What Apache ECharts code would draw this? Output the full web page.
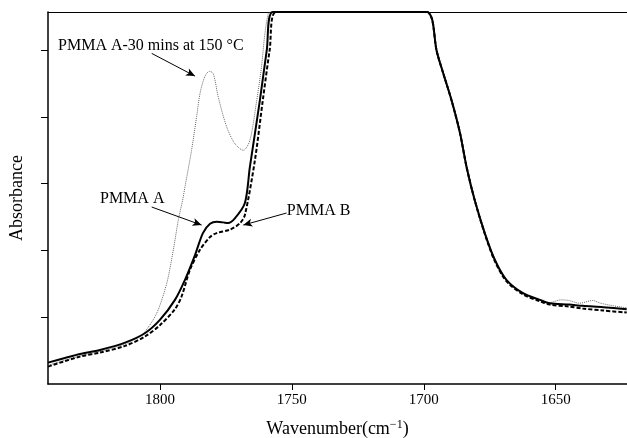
<!DOCTYPE html>
<html><head><meta charset="utf-8">
<script src="https://cdn.jsdelivr.net/npm/echarts@6/dist/echarts.min.js"></script>
<style>html,body{margin:0;padding:0;background:#fff}#c{width:627px;height:438px}</style>
</head><body><div id="c"></div>
<script>
// Wavenumber (cm-1) and absorbance (arbitrary units)
const wnA = [1842.4,1836,1830.3,1822.7,1813.2,1805.7,1800,1794.3,1790.5,1786.7,1783.7,1781.0,1778.4,1776,1774.2,1771.6,1767.8,1765.9,1762.1,1759.5,1757.2,1740,1720,1700,1698.6,1696.8,1695.2,1692.7,1689.5,1686.3,1683.8,1680.7,1676.9,1673.1,1668.7,1662.4,1656.0,1652.3,1645,1639.8,1632,1623.1];
const absA = [0.32,0.39,0.45,0.51,0.62,0.76,0.96,1.26,1.56,1.93,2.26,2.40,2.43,2.42,2.41,2.48,2.71,3.25,4.25,5.0,5.57,5.57,5.57,5.57,5.57,5.45,5.0,4.66,4.25,3.76,3.25,2.75,2.26,1.86,1.56,1.36,1.26,1.21,1.19,1.17,1.15,1.12];

const wnB = [1842.4,1830.3,1822.7,1813.2,1805.7,1800,1794.3,1791.8,1788.6,1784.8,1781.0,1778.5,1773.5,1769.6,1767.8,1764.0,1761.0,1758.4,1756.0,1740,1720,1700,1698.6,1696.8,1695.2,1692.7,1689.5,1686.3,1683.8,1680.7,1676.9,1673.1,1668.7,1662.4,1656.0,1652.3,1645,1639.8,1632,1623.1];
const absB = [0.26,0.41,0.47,0.57,0.71,0.88,1.12,1.31,1.71,2.01,2.2,2.26,2.31,2.41,2.53,3.35,4.25,5.0,5.57,5.57,5.57,5.57,5.57,5.45,5.0,4.66,4.25,3.76,3.25,2.75,2.25,1.84,1.54,1.34,1.24,1.19,1.16,1.13,1.10,1.07];

const wnH = [1842.4,1830.3,1822.7,1813.2,1808,1805.7,1801.2,1797.4,1794.9,1793.0,1791.4,1790.5,1788.0,1786.1,1784.8,1783.0,1781.3,1779.8,1777.9,1774.7,1771.6,1768.4,1765.9,1763.3,1761.5,1760.2,1758.9,1758,1740,1720,1700,1698.4,1696.6,1695.0,1692.5,1689.3,1686.1,1683.6,1680.5,1676.7,1672.9,1668.5,1662.2,1656.0,1652.3,1648,1645,1641,1636,1633,1628,1623.1];
const absH = [0.28,0.42,0.49,0.6,0.7,0.78,1.06,1.51,2.01,2.46,2.75,2.95,3.5,4.0,4.35,4.6,4.68,4.65,4.3,3.85,3.6,3.5,3.65,4.25,4.75,5.25,5.55,5.57,5.57,5.57,5.57,5.57,5.45,5.0,4.66,4.25,3.76,3.25,2.75,2.26,1.86,1.56,1.36,1.26,1.22,1.26,1.25,1.21,1.25,1.21,1.17,1.14];

const xTicks = [1800,1750,1700,1650];
const yTicks = [1,2,3,4,5];
const labelTexts = ['PMMA A-30 mins at 150 \u00b0C','PMMA A','PMMA B'];
const labelWn = [1838.6,1822.7,1751.9];
const labelAbs = [5.06,2.77,2.60];
const arrowFrom = [[1803.1,4.95],[1803.1,2.65],[1752.0,2.56]];
const arrowTo = [[1786.7,4.61],[1784.2,2.38],[1768.4,2.38]];

const zip = (a,b)=>a.map((v,i)=>[v,b[i]]);
const font = "'Liberation Serif','Times New Roman',serif";
const chart = echarts.init(document.getElementById('c'));
chart.setOption({
  animation:false,
  grid:{left:48,right:0,top:12,bottom:54,outerBoundsMode:'none',containLabel:false},
  xAxis:[{
    type:'value', inverse:true, min:1623, max:1842.4,
    name:'Wavenumber(cm{sup|\u22121})', nameLocation:'middle', nameGap:35,
    nameTextStyle:{color:'#000',fontFamily:font,fontSize:18,rich:{sup:{fontSize:12,verticalAlign:'top',padding:[0,0,9,0],fontFamily:font,color:'#000'}}},
    axisLine:{lineStyle:{color:'#000',width:1.5}},
    axisTick:{show:true,length:6,lineStyle:{color:'#000'},customValues:xTicks},
    axisLabel:{color:'#000',fontFamily:font,fontSize:15,margin:9,customValues:xTicks,formatter:v=>String(v)},
    splitLine:{show:false}
  },{
    type:'value', position:'top', min:1623, max:1842.4, inverse:true,
    axisLine:{show:true,lineStyle:{color:'#000',width:1}},
    axisTick:{show:false}, axisLabel:{show:false}, splitLine:{show:false}
  }],
  yAxis:{
    type:'value', min:0, max:5.57, interval:1,
    name:'Absorbance', nameLocation:'middle', nameGap:22,
    nameTextStyle:{color:'#000',fontFamily:font,fontSize:18},
    axisLine:{show:true,lineStyle:{color:'#000',width:1.5}},
    axisTick:{show:true,length:7,lineStyle:{color:'#000'},customValues:yTicks},
    axisLabel:{show:false}, splitLine:{show:false}
  },
  series:[
    {type:'line',data:zip(wnH,absH),showSymbol:false,smooth:0.3,clip:false,
     lineStyle:{color:'#666',width:1,type:[1,1]}},
    {type:'line',data:zip(wnB,absB),showSymbol:false,smooth:0.3,clip:false,
     lineStyle:{color:'#000',width:2,type:[4,2]}},
    {type:'line',data:zip(wnA,absA),showSymbol:false,smooth:0.3,clip:false,
     lineStyle:{color:'#000',width:2}},
    {type:'scatter',symbolSize:0,itemStyle:{opacity:1},
     data:labelWn.map((w,i)=>[w,labelAbs[i],labelTexts[i]]),
     label:{show:true,position:'right',distance:0,color:'#000',opacity:1,fontFamily:font,fontSize:16,formatter:p=>p.value[2]},
     markLine:{silent:true,symbol:['none','arrow'],symbolSize:[6,9],
       lineStyle:{color:'#000',width:1,type:'solid',opacity:1},label:{show:false},
       data:arrowFrom.map((f,i)=>[{coord:f},{coord:arrowTo[i]}])}
    }
  ]
});
</script></body></html>
